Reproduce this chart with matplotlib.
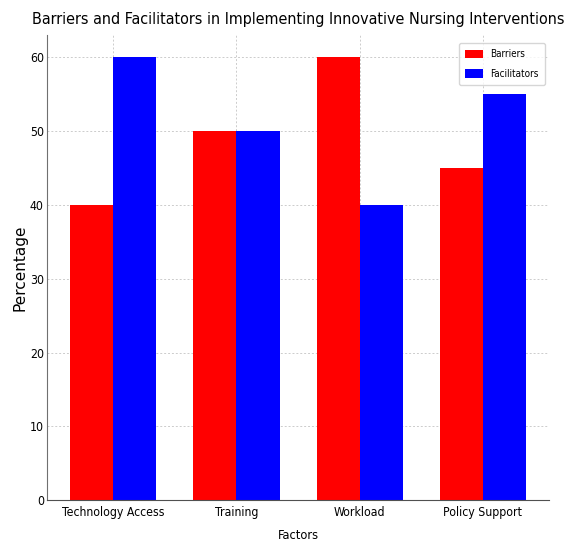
import numpy as np
import matplotlib.pyplot as plt

factors = ["Technology Access", "Training", "Workload", "Policy Support"]
barriers = [40, 50, 60, 45]
facilitators = [60, 50, 40, 55]

plt.rcParams['font.family'] = 'DejaVu Sans'
plt.rcParams['font.stretch'] = 'condensed'

x = np.arange(len(factors))
width = 0.35

fig, ax = plt.subplots(figsize=(5.76, 5.42), dpi=100)
ax.bar(x - width / 2, barriers, width, color='red', label='Barriers')
ax.bar(x + width / 2, facilitators, width, color='blue', label='Facilitators')

ax.set_title("Barriers and Facilitators in Implementing Innovative Nursing Interventions",
             fontsize=11.5, pad=8)
ax.set_xlabel("Factors", fontsize=9.2, labelpad=7)
ax.set_ylabel("Percentage", fontsize=11, fontstretch='normal')
ax.yaxis.set_label_coords(-0.04, 0.5)
ax.set_xticks(x)
ax.set_xticklabels(factors)
ax.tick_params(labelsize=8.8, length=0, pad=4)
ax.tick_params(axis='y', pad=2.5)

ax.legend(loc='upper right', bbox_to_anchor=(0.992, 0.983), borderaxespad=0,
          fontsize=7.1, handlelength=1.8, handleheight=0.9, labelspacing=1.0,
          borderpad=0.6, handletextpad=0.8)
ax.grid(True, linestyle=(0, (2, 2)), color='#cccccc', linewidth=0.7)
ax.set_axisbelow(True)
ax.spines['top'].set_visible(False)
ax.spines['right'].set_visible(False)
ax.spines['left'].set_color('#707070')
ax.spines['bottom'].set_color('#505050')

fig.subplots_adjust(left=0.082, right=0.953, top=0.935, bottom=0.077)
fig.savefig('out.png')
